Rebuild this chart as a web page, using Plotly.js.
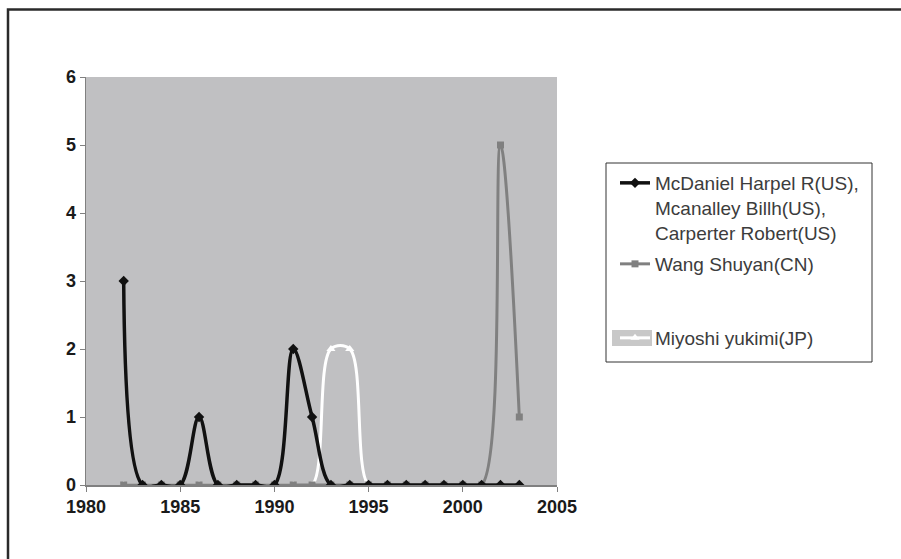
<!DOCTYPE html>
<html>
<head>
<meta charset="utf-8">
<script src="https://cdn.plot.ly/plotly-3.0.1.min.js"></script>
<style>html,body{margin:0;padding:0;background:#fff;}#chart{width:901px;height:559px;}</style>
</head>
<body>
<div id="chart"></div>
<script>
const years = [1982,1983,1984,1985,1986,1987,1988,1989,1990,1991,1992,1993,1994,1995,1996,1997,1998,1999,2000,2001,2002,2003];
const mcdaniel = [3,0,0,0,1,0,0,0,0,2,1,0,0,0,0,0,0,0,0,0,0,0];
const wang     = [0,0,0,0,0,0,0,0,0,0,0,0,0,0,0,0,0,0,0,0,5,1];
const miyoshi  = [0,0,0,0,0,0,0,0,0,0,0,2,2,0,0,0,0,0,0,0,0,0];
const seriesNames = [
  "McDaniel Harpel R(US),<br>Mcanalley Billh(US),<br>Carperter Robert(US)",
  "Wang Shuyan(CN)",
  "Miyoshi yukimi(JP)"
];
const xTicks = [1980,1985,1990,1995,2000,2005];
const yTicks = [0,1,2,3,4,5,6];

const L = 86, R = 557, T = 77, B = 485, W = 901, H = 559;
const px = v => (v - L) / (R - L);
const py = v => (B - v) / (B - T);
const cy = v => 1 - v / H;

const traces = [
  {x: years, y: miyoshi, name: seriesNames[2], mode: 'lines+markers', type: 'scatter',
   line: {color: '#ffffff', width: 3, shape: 'spline', smoothing: 1},
   marker: {symbol: 'triangle-up', size: 8, color: '#ffffff'}, legend: 'legend3'},
  {x: years, y: wang, name: seriesNames[1], mode: 'lines+markers', type: 'scatter',
   line: {color: '#808080', width: 3, shape: 'spline', smoothing: 1},
   marker: {symbol: 'square', size: 7, color: '#808080'}, legend: 'legend2'},
  {x: years, y: mcdaniel, name: seriesNames[0], mode: 'lines+markers', type: 'scatter',
   line: {color: '#111111', width: 3.5, shape: 'spline', smoothing: 1},
   marker: {symbol: 'diamond', size: 8, color: '#111111'}, legend: 'legend'}
];

const legendFont = {family: 'Arial, "Liberation Sans", sans-serif', size: 19, color: '#3c3c3c'};
const legBase = {xref: 'container', yref: 'container', xanchor: 'left', yanchor: 'top',
  bgcolor: 'rgba(0,0,0,0)', borderwidth: 0, font: legendFont, valign: 'top', itemclick: false};

const tickFont = {family: 'Arial, "Liberation Sans", sans-serif', size: 18, color: '#1a1a1a', weight: 'bold'};

const layout = {
  width: W, height: H,
  margin: {l: L, r: W - R, t: T, b: H - B},
  paper_bgcolor: '#ffffff',
  plot_bgcolor: '#c0c0c2',
  showlegend: true,
  legend: Object.assign({}, legBase, {x: 615 / W, y: cy(164)}),
  legend2: Object.assign({}, legBase, {x: 615 / W, y: cy(245)}),
  legend3: Object.assign({}, legBase, {x: 615 / W, y: cy(319)}),
  xaxis: {
    range: [1980, 2005], tickvals: xTicks, ticktext: xTicks.map(String),
    showgrid: false, zeroline: false, showline: true, linecolor: '#808080', linewidth: 1.5,
    ticks: 'outside', ticklen: 5, tickcolor: '#808080', tickfont: tickFont
  },
  yaxis: {
    range: [0, 6], tickvals: yTicks, ticktext: yTicks.map(String),
    showgrid: false, zeroline: false, showline: true, linecolor: '#808080', linewidth: 1.5,
    ticks: 'outside', ticklen: 5, tickcolor: '#808080', tickfont: tickFont
  },
  shapes: [
    {type: 'path', xref: 'paper', yref: 'paper', layer: 'above',
     path: 'M' + px(8) + ',' + py(600) + ' L' + px(8) + ',' + py(9.5) + ' L' + px(1000) + ',' + py(9.5),
     line: {color: '#2a2a2a', width: 2.5}},
    {type: 'rect', xref: 'paper', yref: 'paper', layer: 'above',
     x0: px(606), x1: px(872), y0: py(362), y1: py(163),
     line: {color: '#333333', width: 1}, fillcolor: 'rgba(0,0,0,0)'},
    {type: 'rect', xref: 'paper', yref: 'paper', layer: 'above',
     x0: px(612), x1: px(652), y0: py(346), y1: py(330),
     line: {width: 0}, fillcolor: '#c8c8c8'}
  ]
};

Plotly.newPlot('chart', traces, layout, {displayModeBar: false, staticPlot: true});
</script>
</body>
</html>
